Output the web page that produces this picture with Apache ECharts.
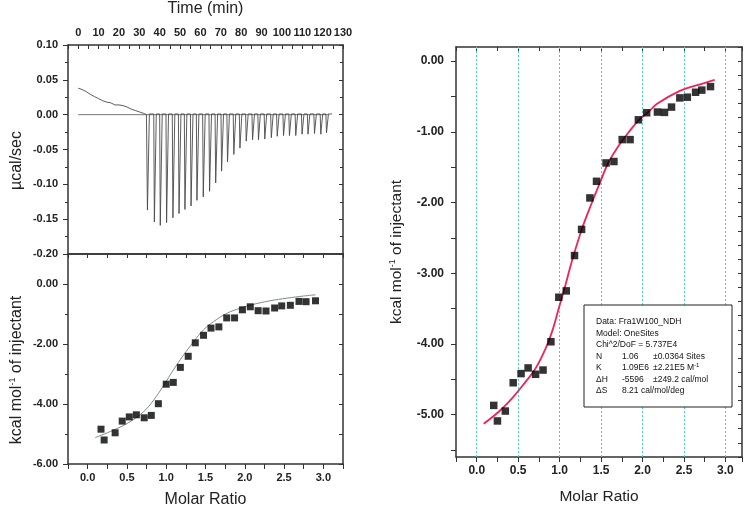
<!DOCTYPE html>
<html><head><meta charset="utf-8">
<script src="https://cdn.jsdelivr.net/npm/echarts@6/dist/echarts.min.js"></script>
<style>html,body{margin:0;padding:0;background:#fff}#c{width:750px;height:510px}</style>
</head><body><div id="c"></div>
<script>
// ---- Raw thermogram (top-left) ----
const driftTime  = [0,2,4,6,8,10,12,14,16,18,20,22,24,26,28,30,32,33.5];
const driftPower = [0.038,0.036,0.033,0.029,0.026,0.023,0.020,0.018,0.017,0.014,0.014,0.013,0.011,0.008,0.006,0.004,0.002,0.0];
const injTime = [33.7,37.1,40.0,43.1,46.2,49.2,52.1,55.1,58.0,61.1,64.2,67.2,70.1,73.0,76.1,79.1,82.2,85.3,88.2,91.3,94.5,97.4,100.5,103.4,106.5,109.6,112.5,115.7,118.8,121.6];
const injPeak = [-0.137,-0.154,-0.159,-0.155,-0.148,-0.142,-0.136,-0.131,-0.123,-0.118,-0.110,-0.098,-0.081,-0.068,-0.057,-0.048,-0.038,-0.036,-0.036,-0.035,-0.033,-0.031,-0.030,-0.030,-0.030,-0.028,-0.028,-0.027,-0.028,-0.026];
const baselineTime = [0,123];

// ---- Integrated heats, left panel ----
const ratioL = [0.17,0.21,0.35,0.44,0.53,0.62,0.72,0.81,0.90,1.00,1.09,1.18,1.28,1.37,1.475,1.57,1.67,1.77,1.87,1.97,2.07,2.17,2.27,2.38,2.47,2.58,2.69,2.78,2.90];
const heatL  = [-4.84,-5.20,-4.96,-4.57,-4.43,-4.36,-4.46,-4.38,-3.99,-3.34,-3.28,-2.78,-2.41,-1.96,-1.71,-1.47,-1.43,-1.13,-1.13,-0.86,-0.76,-0.89,-0.90,-0.80,-0.73,-0.71,-0.58,-0.59,-0.56];
const fitRatioL = [0.096,0.33,0.54,0.71,0.84,0.97,1.09,1.22,1.35,1.475,1.60,1.77,1.94,2.11,2.32,2.54,2.75,2.90];
const fitHeatL  = [-5.12,-4.87,-4.59,-4.26,-3.87,-3.37,-2.87,-2.37,-1.92,-1.53,-1.26,-0.98,-0.81,-0.68,-0.56,-0.47,-0.40,-0.36];

// ---- Integrated heats, right panel ----
const ratioR = [0.205,0.25,0.345,0.44,0.535,0.62,0.71,0.80,0.895,0.99,1.08,1.18,1.265,1.365,1.445,1.56,1.655,1.755,1.85,1.95,2.05,2.18,2.265,2.35,2.45,2.54,2.64,2.715,2.82];
const heatR  = [-4.87,-5.09,-4.95,-4.55,-4.42,-4.34,-4.43,-4.37,-3.97,-3.34,-3.25,-2.75,-2.38,-1.935,-1.70,-1.44,-1.42,-1.11,-1.11,-0.83,-0.73,-0.72,-0.725,-0.65,-0.52,-0.51,-0.44,-0.41,-0.36];
const fitRatioR = [0.084,0.265,0.426,0.587,0.708,0.829,0.908,0.989,1.07,1.15,1.27,1.39,1.49,1.59,1.71,1.83,1.95,2.07,2.18,2.45,2.66,2.87];
const fitHeatR  = [-5.13,-4.96,-4.77,-4.54,-4.35,-4.07,-3.83,-3.50,-3.17,-2.82,-2.37,-2.00,-1.71,-1.43,-1.20,-1.01,-0.84,-0.72,-0.60,-0.42,-0.34,-0.265];

// ---- Tick labels ----
const ratioGridLines = [0,0.5,1.0,1.5,2.0,2.5,3.0];
const heatRLabels = [-5,-4,-3,-2,-1,0];
const heatRTicks = [-5.5,-5,-4.5,-4,-3.5,-3,-2.5,-2,-1.5,-1,-0.5,0];

const legendLines = [
  ['Data: Fra1W100_NDH','',''],
  ['Model: OneSites','',''],
  ['Chi^2/DoF = 5.737E4','',''],
  ['N','1.06','±0.0364 Sites'],
  ['K','1.09E6','±2.21E5 M{s|-1}'],
  ['ΔH','-5596','±249.2 cal/mol'],
  ['ΔS','8.21 cal/mol/deg','']
];

// build thermogram trace
const thermo = [];
for (let i = 0; i < driftTime.length; i++) thermo.push([driftTime[i], driftPower[i]]);
for (let i = 0; i < injTime.length; i++) {
  const t = injTime[i];
  thermo.push([t, 0.001]);
  thermo.push([t + 0.3, injPeak[i]]);
  thermo.push([t + 1.25, 0.001]);
  thermo.push([t + 2.2, 0.0015]);
}
thermo.push([injTime[injTime.length-1] + 3.0, 0.001]);

const FONT = 'Liberation Sans, Arial, sans-serif';
const AX = '#333';
const lab = (extra) => Object.assign({fontFamily: FONT, fontSize: 11, fontWeight: 'bold', color: '#222'}, extra || {});
const line = {show: true, onZero: false, lineStyle: {color: AX, width: 1.5}};
const noLab = {show: false};
const noSplit = {show: false};
const halfMultiple = v => Math.abs(v*2 - Math.round(v*2)) < 1e-6;

const chart = echarts.init(document.getElementById('c'), null, {renderer: 'canvas'});

const graphics = [{
  type: 'rect', shape: {x: 584, y: 305, width: 148, height: 102},
  style: {fill: '#fff', stroke: '#222', lineWidth: 1}, z: 100
}];
const rowY = [322, 333.5, 345, 356.5, 368, 379.5, 391];
const colX = [596, 622, 653];
legendLines.forEach((row, r) => {
  row.forEach((txt, c) => {
    if (!txt) return;
    graphics.push({
      type: 'text', x: colX[c], y: rowY[r], z: 101,
      style: {
        text: txt, fill: '#111', font: '8.5px ' + FONT, verticalAlign: 'middle',
        rich: {s: {fontSize: 6, fontFamily: FONT, fill: '#111', verticalAlign: 'top', padding: [0,0,6,0]}}
      }
    });
  });
});

const option = {
  animation: false,
  backgroundColor: '#fff',
  graphic: graphics,
  grid: [
    {left: 68, top: 44, width: 275, height: 210},
    {left: 68, top: 254, width: 275, height: 210},
    {left: 456, top: 47, width: 286, height: 412}
  ],
  xAxis: [
    {gridIndex: 0, type: 'value', position: 'top', min: -5, max: 130, interval: 5,
     name: 'Time (min)', nameLocation: 'middle', nameGap: 28,
     nameTextStyle: {fontFamily: FONT, fontSize: 16, color: '#222'},
     axisLine: line, axisTick: {inside: true, length: 4, lineStyle: {color: AX}},
     axisLabel: lab({margin: 7, formatter: v => (v >= 0 && Math.round(v) % 10 === 0) ? String(Math.round(v)) : ''}),
     splitLine: noSplit},
    {gridIndex: 0, type: 'value', position: 'bottom', min: -5, max: 130,
     axisLine: line, axisTick: {show: false}, axisLabel: noLab, splitLine: noSplit},
    {gridIndex: 1, type: 'value', position: 'bottom', min: -0.25, max: 3.25, interval: 0.25,
     name: 'Molar Ratio', nameLocation: 'middle', nameGap: 28,
     nameTextStyle: {fontFamily: FONT, fontSize: 16, color: '#222'},
     axisLine: line, axisTick: {inside: false, length: 5, lineStyle: {color: AX}},
     axisLabel: lab({margin: 8, formatter: v => (v >= 0 && v <= 3.001 && halfMultiple(v)) ? v.toFixed(1) : ''}),
     splitLine: noSplit},
    {gridIndex: 1, type: 'value', position: 'top', min: -0.25, max: 3.25, interval: 0.25,
     axisLine: line, axisTick: {inside: true, length: 4, lineStyle: {color: AX}}, axisLabel: noLab, splitLine: noSplit},
    {gridIndex: 2, type: 'value', position: 'bottom', min: -0.25, max: 3.2, interval: 0.25,
     name: 'Molar Ratio', nameLocation: 'middle', nameGap: 32,
     nameTextStyle: {fontFamily: FONT, fontSize: 15.5, color: '#222'},
     axisLine: line, axisTick: {inside: false, length: 5, lineStyle: {color: AX}},
     axisLabel: lab({fontSize: 12, margin: 8, formatter: v => (v >= 0 && v <= 3.001 && halfMultiple(v)) ? v.toFixed(1) : ''}),
     splitLine: noSplit},
    {gridIndex: 2, type: 'value', position: 'top', min: -0.25, max: 3.2, interval: 0.25,
     axisLine: line, axisTick: {inside: true, length: 4, lineStyle: {color: AX}}, axisLabel: noLab, splitLine: noSplit}
  ],
  yAxis: [
    {gridIndex: 0, type: 'value', position: 'left', min: -0.2, max: 0.1, interval: 0.05,
     name: 'µcal/sec', nameLocation: 'middle', nameGap: 43,
     nameTextStyle: {fontFamily: FONT, fontSize: 16, color: '#222', padding: [0, 22, 0, 0]},
     axisLine: line, axisTick: {inside: false, length: 5, lineStyle: {color: AX}},
     minorTick: {show: true, splitNumber: 2, length: 3, lineStyle: {color: AX}},
     axisLabel: lab({margin: 10, formatter: v => v.toFixed(2)}), splitLine: noSplit, minorSplitLine: {show: false}},
    {gridIndex: 0, type: 'value', position: 'right', min: -0.2, max: 0.1, interval: 0.05,
     axisLine: line, axisTick: {inside: true, length: 4, lineStyle: {color: AX}},
     minorTick: {show: true, splitNumber: 2, length: 3, lineStyle: {color: AX}},
     axisLabel: noLab, splitLine: noSplit},
    {gridIndex: 1, type: 'value', position: 'left', min: -6, max: 1, interval: 2,
     name: '{t|kcal mol}{s|-1}{t| of injectant}', nameLocation: 'middle', nameGap: 43,
     nameTextStyle: {fontFamily: FONT, fontSize: 16, color: '#222', padding: [0, 22, 0, 0],
       rich: {t: {fontFamily: FONT, fontSize: 16, color: '#222'}, s: {fontFamily: FONT, fontSize: 9, color: '#222', verticalAlign: 'top', padding: [0,0,8,0]}}},
     axisLine: line, axisTick: {inside: false, length: 5, lineStyle: {color: AX}},
     minorTick: {show: true, splitNumber: 2, length: 3, lineStyle: {color: AX}},
     axisLabel: lab({margin: 10, formatter: v => v <= 0 ? v.toFixed(2) : ''}), splitLine: noSplit},
    {gridIndex: 1, type: 'value', position: 'right', min: -6, max: 1, interval: 1,
     axisLine: line, axisTick: {inside: true, length: 4, lineStyle: {color: AX}}, axisLabel: noLab, splitLine: noSplit},
    {gridIndex: 2, type: 'value', position: 'left', min: -5.6, max: 0.2,
     name: '{t|kcal mol}{s|-1}{t| of injectant}', nameLocation: 'middle', nameGap: 51,
     nameTextStyle: {fontFamily: FONT, fontSize: 16, color: '#222',
       rich: {t: {fontFamily: FONT, fontSize: 15.5, color: '#222'}, s: {fontFamily: FONT, fontSize: 9, color: '#222', verticalAlign: 'top', padding: [0,0,8,0]}}},
     axisLine: line, axisTick: {inside: false, length: 5, customValues: heatRTicks, lineStyle: {color: AX}},
     axisLabel: lab({fontSize: 12, margin: 12, customValues: heatRLabels, formatter: v => v.toFixed(2)}), splitLine: noSplit},
    {gridIndex: 2, type: 'value', position: 'right', min: -5.6, max: 0.2, interval: 0.2,
     axisLine: line, axisTick: {inside: true, length: 4, lineStyle: {color: AX}}, axisLabel: noLab, splitLine: noSplit}
  ],
  series: [
    {type: 'line', xAxisIndex: 0, yAxisIndex: 0, data: baselineTime.map(t => [t, 0]),
     symbol: 'none', lineStyle: {color: '#555', width: 0.8}, z: 2},
    {type: 'line', xAxisIndex: 0, yAxisIndex: 0, data: thermo,
     symbol: 'none', lineStyle: {color: '#4a4a4a', width: 0.9}, z: 3},
    {type: 'line', xAxisIndex: 2, yAxisIndex: 2, data: fitRatioL.map((x, i) => [x, fitHeatL[i]]),
     symbol: 'none', smooth: 0.4, lineStyle: {color: '#7d8c8a', width: 1}, z: 3},
    {type: 'scatter', xAxisIndex: 2, yAxisIndex: 2, data: ratioL.map((x, i) => [x, heatL[i]]),
     symbol: 'rect', symbolSize: 7, itemStyle: {color: '#000'}, z: 4},
    {type: 'line', xAxisIndex: 4, yAxisIndex: 4, data: fitRatioR.map((x, i) => [x, fitHeatR[i]]),
     symbol: 'none', smooth: 0.4, lineStyle: {color: '#ee2458', width: 1.8}, z: 3},
    {type: 'scatter', xAxisIndex: 4, yAxisIndex: 4, data: ratioR.map((x, i) => [x, heatR[i]]),
     symbol: 'rect', symbolSize: 7.5, itemStyle: {color: '#000'}, z: 4,
     markLine: {silent: true, symbol: 'none', label: {show: false},
       lineStyle: {color: '#3fd2d2', type: [2, 2], width: 1}, z: 1,
       data: ratioGridLines.map(v => ({xAxis: v}))}}
  ]
};
chart.setOption(option);
</script>
</body></html>
